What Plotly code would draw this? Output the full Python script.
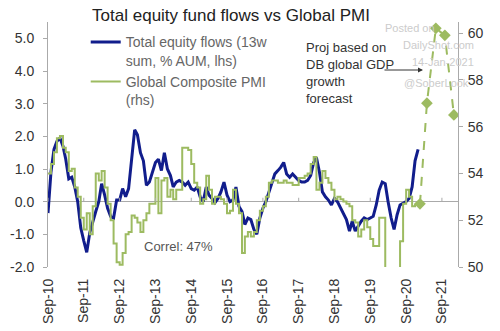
import pandas as pd
import plotly.graph_objects as go

# ---- data ----
flow_dates = pd.date_range("2010-09-01", periods=125, freq="MS")
flows = [-0.35, 0.9, 1.6, 1.85, 1.95, 1.7, 1.3, 0.7, 0.75, 0.45,
         0.0, -0.8, -1.2, -1.55, -0.95, -0.6, -0.3, 0.0, 0.55, 0.2,
         -0.2, -0.45, -0.5, 0.05, 0.05, 0.4, 0.15, 0.4, 1.3, 2.2,
         2.05, 1.5, 1.25, 0.5, 0.6, 0.9, 1.2, 1.3, 0.95, 1.5,
         1.0, 0.8, 0.45, 0.6, 0.65, 0.6, 0.5, 0.6, 0.4, 0.35,
         0.45, 0.15, 0.0, 0.45, 0.2, 0.1, -0.03, 0.1, 0.3, 0.6,
         0.2, 0.0, 0.05, 0.45, -0.15, -0.3, -0.7, -0.5, -0.55, -0.85,
         -1.0, -0.5, -0.2, 0.0, 0.3, 0.6, 0.85, 0.95, 1.05, 1.2,
         0.85, 0.75, 0.85, 0.75, 0.65, 0.6, 0.6, 0.65, 0.8, 1.2,
         1.35, 0.9, 0.3, 0.15, 0.05, -0.1, 0.1, 0.0, -0.2, -0.4,
         -0.55, -0.9, -0.6, -0.9, -0.75, -0.6, -0.5, -0.55, -0.5, -0.45,
         -0.1, 0.35, 0.6, 0.55, 0.0, -0.5, -0.85, -0.4, -0.1, -0.05,
         0.0, 0.1, 0.45, 1.25, 1.6]

pmi_dates = pd.date_range("2010-09-01", periods=124, freq="MS")
pmi = [54.0, 54.4, 54.9, 55.5, 55.6, 55.1, 54.9, 54.1, 54.2, 53.4,
       53.0, 52.1, 51.6, 52.3, 51.4, 52.6, 54.0, 53.7, 54.1, 53.4,
       52.7, 52.0, 51.0, 50.2, 50.1, 50.6, 51.4, 51.5, 52.2, 52.1,
       51.9, 51.5, 52.0, 52.3, 52.7, 52.7, 53.8, 52.3, 53.7, 53.8,
       53.0, 53.3, 52.9, 53.3, 53.3, 55.1, 55.1, 55.0, 54.4, 53.6,
       53.4, 52.7, 52.9, 53.9, 53.3, 52.7, 53.0, 53.0, 52.9, 52.7,
       52.3, 52.4, 53.3, 52.7, 52.3, 50.6, 51.3, 51.5, 51.3, 51.5,
       52.0, 52.4, 52.6, 53.0, 53.6, 53.7, 53.7, 53.6, 53.6, 53.7,
       53.6, 53.6, 53.5, 53.5, 53.8, 53.8, 53.9, 54.0, 54.4, 54.7,
       53.3, 53.6, 54.1, 53.8, 53.6, 53.3, 52.9, 53.0, 52.9, 52.8,
       52.7, 52.6, 52.0, 51.9, 51.3, 51.6, 52.0, 51.7, 51.2, 50.9,
       50.9, 52.1, 52.1, 46.1, 39.4, 26.2, 36.3, 47.7, 51.1, 52.7,
       53.3, 53.0, 52.6, 52.7]

proj_dates = pd.to_datetime(["2021-01-20", "2021-04-01", "2021-07-01",
                             "2021-10-01", "2022-01-01"])
proj = [52.7, 57.0, 60.2, 59.9, 56.5]

tick_dates = pd.date_range("2010-09-01", periods=12, freq="12MS")
tick_labels = ["Sep-%02d" % (d.year % 100) for d in tick_dates]
left_ticks = [-2, -1, 0, 1, 2, 3, 4, 5]
right_ticks = [50, 52, 54, 56, 58, 60]

BLUE = "#111d8c"
GREEN = "#9dbb61"

fig = go.Figure()
fig.add_trace(go.Scatter(x=flow_dates, y=flows, mode="lines",
                         line=dict(color=BLUE, width=3),
                         name="Total equity flows (13w<br>sum, % AUM, lhs)"))
fig.add_trace(go.Scatter(x=pmi_dates, y=pmi, mode="lines", yaxis="y2",
                         line=dict(color=GREEN, width=2, shape="hv"),
                         name="Global Composite PMI<br>(rhs)"))
fig.add_trace(go.Scatter(x=proj_dates, y=proj, mode="lines+markers", yaxis="y2",
                         line=dict(color=GREEN, width=2, dash="dash"),
                         marker=dict(symbol="diamond", size=9, color=GREEN),
                         showlegend=False))

# small tick marks sitting on the zero line
for d in tick_dates:
    fig.add_shape(type="line", xref="x", yref="y", x0=d, x1=d, y0=0, y1=0.12,
                  line=dict(color="#aaaaaa", width=1))

axis_font = dict(size=14, color="#333333")
fig.update_layout(
    width=500, height=331,
    margin=dict(l=48, r=42, t=22, b=64, autoexpand=False),
    plot_bgcolor="white", paper_bgcolor="white",
    font=dict(family="Liberation Sans, Arial, sans-serif", color="#333333"),
    title=dict(text="Total equity fund flows vs Global PMI", x=0.462, xanchor="center",
               y=0.955, yanchor="middle", font=dict(size=17, color="#222222")),
    xaxis=dict(type="date", range=["2010-09-01", "2022-02-12"],
               tickvals=tick_dates, ticktext=tick_labels, tickangle=-90,
               showgrid=False, showline=False, zeroline=False, ticks="",
               ticklabelstandoff=8, tickfont=axis_font, automargin=False),
    yaxis=dict(range=[-2, 5.5], tickvals=left_ticks,
               ticktext=["%.1f" % v for v in left_ticks],
               showgrid=False, showline=True, linecolor="#aaaaaa", linewidth=1,
               ticks="outside", ticklen=4, tickcolor="#aaaaaa",
               zeroline=True, zerolinecolor="#aaaaaa", zerolinewidth=1,
               ticklabelstandoff=6, tickfont=axis_font, automargin=False),
    yaxis2=dict(range=[50, 60.47], tickvals=right_ticks, overlaying="y", side="right",
                showgrid=False, showline=True, linecolor="#aaaaaa", linewidth=1,
                ticks="outside", ticklen=4, tickcolor="#aaaaaa", zeroline=False,
                ticklabelstandoff=2, tickfont=axis_font, automargin=False),
    legend=dict(x=0.092, y=0.982, xanchor="left", yanchor="top",
                bgcolor="rgba(0,0,0,0)", font=dict(size=14, color="#666666"),
                valign="top", tracegroupgap=4, itemwidth=30),
    showlegend=True,
)

fig.add_annotation(text="Proj based on<br>DB global GDP<br>growth<br>forecast",
                   xref="paper", yref="paper", x=(304 - 48) / 410, y=(267 - 38) / 245,
                   xanchor="left", yanchor="top", align="left", showarrow=False,
                   font=dict(size=13, color="#333333"))
fig.add_annotation(xref="paper", yref="paper", x=(423 - 48) / 410, y=(267 - 70) / 245,
                   ax=-40, ay=0, text="", showarrow=True, arrowhead=2, arrowsize=1,
                   arrowwidth=1, arrowcolor="#333333")
fig.add_annotation(text="Correl: 47%", xref="paper", yref="paper",
                   x=(142 - 48) / 410, y=(267 - 246) / 245, xanchor="left",
                   yanchor="middle", showarrow=False, font=dict(size=13, color="#555555"))
for txt, px, py in [("Posted on", 410, 28), ("DailyShot.com", 438, 45),
                    ("14-Jan-2021", 443, 62), ("@SoberLook", 436, 83)]:
    fig.add_annotation(text=txt, xref="paper", yref="paper",
                       x=(px - 48) / 410, y=(267 - py) / 245, xanchor="center",
                       yanchor="middle", showarrow=False,
                       font=dict(size=11, color="#cccccc"))

fig.write_html("out.html")
